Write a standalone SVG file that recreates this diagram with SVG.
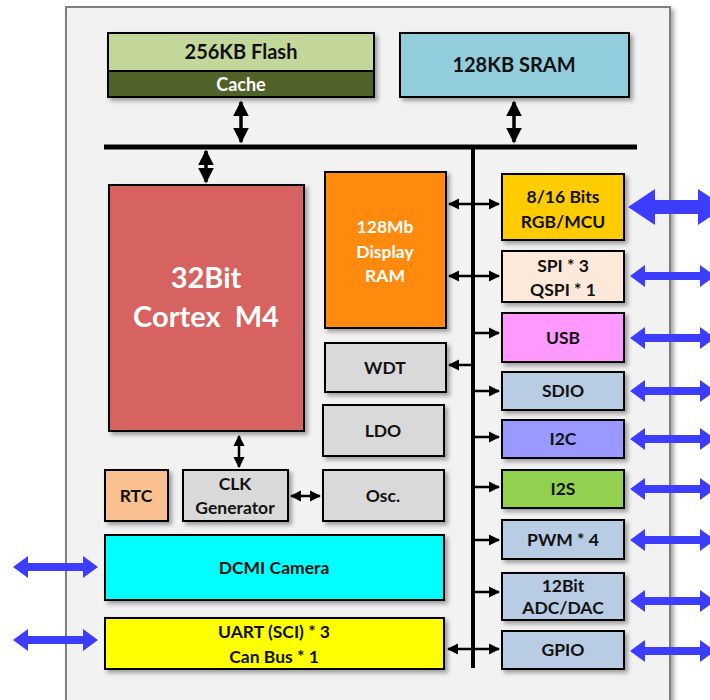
<svg xmlns="http://www.w3.org/2000/svg" width="710" height="700" viewBox="0 0 710 700">
<defs>
<filter id="sh" x="-10%" y="-10%" width="130%" height="130%">
<feDropShadow dx="3" dy="3" stdDeviation="2" flood-color="#000" flood-opacity="0.35"/>
</filter>
<marker id="ah" viewBox="0 0 10 10" refX="9" refY="5" markerWidth="4.5" markerHeight="4.5" orient="auto-start-reverse">
<path d="M0,0 L10,5 L0,10 z" fill="#000"/>
</marker>
<path id="ba" d="M0,0 L15,-11 L15,-4 L70,-4 L70,-11 L85,0 L70,11 L70,4 L15,4 L15,11 z" fill="#3d3dff"/>
<path id="bb" d="M0,0 L27,-18 L27,-7 L70,-7 L70,-18 L97,0 L70,18 L70,7 L27,7 L27,18 z" fill="#3d3dff"/>
</defs>
<style>
.b{stroke:#000;stroke-width:2;filter:url(#sh)}
.t{font-family:Lato,"Open Sans","Liberation Sans",sans-serif;font-weight:bold;font-size:17.5px;text-anchor:middle;fill:#111}
.w{fill:#fff}
.c{stroke:#000;stroke-width:2.5;fill:none;marker-start:url(#ah);marker-end:url(#ah)}
.s{stroke:#000;stroke-width:2.5;fill:none;marker-end:url(#ah)}
.v{stroke:#000;stroke-width:3.5;fill:none;marker-start:url(#ah);marker-end:url(#ah)}
</style>
<rect x="0" y="0" width="710" height="700" fill="#fff"/>
<rect x="66" y="7" width="604" height="700" fill="#f2f2f2" stroke="#7f7f7f" stroke-width="2" filter="url(#sh)"/>

<g id="flash">
<rect class="b" x="108" y="33" width="266" height="64" fill="#c4d79b"/>
<rect x="108" y="71" width="266" height="26" fill="#4f6228" stroke="#000" stroke-width="2"/>
<text class="t" x="241" y="59" style="font-size:20px">256KB Flash</text>
<text class="t w" x="241" y="91" style="font-size:18px">Cache</text>
</g>
<g id="sram">
<rect class="b" x="400" y="33" width="229" height="64" fill="#92cddc"/>
<text class="t" x="514" y="72" style="font-size:20px">128KB SRAM</text>
</g>
<g id="cpu">
<rect class="b" x="109" y="185" width="195" height="246" fill="#d6635f"/>
<text class="t w" x="206" y="288" style="font-size:29px">32Bit</text>
<text class="t w" x="206" y="327" style="font-size:29px" xml:space="preserve">Cortex  M4</text>
</g>
<g id="dram">
<rect class="b" x="325" y="172" width="121" height="156" fill="#ff8a0d"/>
<text class="t w" x="385" y="233">128Mb</text>
<text class="t w" x="385" y="258">Display</text>
<text class="t w" x="385" y="282">RAM</text>
</g>
<g id="wdt"><rect class="b" x="325" y="343" width="121" height="49" fill="#d9d9d9"/><text class="t" x="385" y="374">WDT</text></g>
<g id="ldo"><rect class="b" x="323" y="405" width="121" height="51" fill="#d9d9d9"/><text class="t" x="383" y="437">LDO</text></g>
<g id="osc"><rect class="b" x="323" y="470" width="121" height="51" fill="#d9d9d9"/><text class="t" x="383" y="502">Osc.</text></g>
<g id="rtc"><rect class="b" x="105" y="470" width="63" height="51" fill="#fac090"/><text class="t" x="136" y="502">RTC</text></g>
<g id="clk"><rect class="b" x="183" y="470" width="105" height="51" fill="#d9d9d9"/><text class="t" x="235" y="490">CLK</text><text class="t" x="235" y="514">Generator</text></g>
<g id="dcmi"><rect class="b" x="105" y="535" width="339" height="65" fill="#00ffff"/><text class="t" x="274" y="574">DCMI Camera</text></g>
<g id="uart"><rect class="b" x="105" y="618" width="339" height="51" fill="#ffff00"/><text class="t" x="274" y="638">UART (SCI) * 3</text><text class="t" x="274" y="663">Can Bus * 1</text></g>

<g id="rgb"><rect class="b" x="502" y="174" width="122" height="66" fill="#ffcc00"/><text class="t" x="563" y="203">8/16 Bits</text><text class="t" x="563" y="228">RGB/MCU</text></g>
<g id="spi"><rect class="b" x="502" y="251" width="122" height="51" fill="#fde9d9"/><text class="t" x="563" y="272">SPI * 3</text><text class="t" x="563" y="296">QSPI * 1</text></g>
<g id="usb"><rect class="b" x="502" y="313" width="122" height="49" fill="#ff99ff"/><text class="t" x="563" y="344">USB</text></g>
<g id="sdio"><rect class="b" x="502" y="372" width="122" height="38" fill="#b8cce4"/><text class="t" x="563" y="397">SDIO</text></g>
<g id="i2c"><rect class="b" x="502" y="420" width="122" height="38" fill="#9999ff"/><text class="t" x="563" y="445">I2C</text></g>
<g id="i2s"><rect class="b" x="502" y="470" width="122" height="38" fill="#92d050"/><text class="t" x="563" y="495">I2S</text></g>
<g id="pwm"><rect class="b" x="502" y="520" width="122" height="39" fill="#b8cce4"/><text class="t" x="563" y="546">PWM * 4</text></g>
<g id="adc"><rect class="b" x="502" y="573" width="122" height="47" fill="#b8cce4"/><text class="t" x="563" y="592">12Bit</text><text class="t" x="563" y="614">ADC/DAC</text></g>
<g id="gpio"><rect class="b" x="502" y="631" width="122" height="38" fill="#b8cce4"/><text class="t" x="563" y="656">GPIO</text></g>

<g id="connectors">
<line x1="104" y1="147" x2="637" y2="147" stroke="#000" stroke-width="5"/>
<line x1="473" y1="147" x2="473" y2="668" stroke="#000" stroke-width="4"/>
<line class="v" x1="241" y1="102" x2="241" y2="142"/>
<line class="v" x1="514" y1="102" x2="514" y2="142"/>
<line class="v" x1="206" y1="151" x2="206" y2="182"/>
<line class="c" x1="449" y1="204" x2="499" y2="204"/>
<line class="c" x1="449" y1="276" x2="499" y2="276"/>
<line class="s" x1="473" y1="333" x2="499" y2="333"/>
<line class="s" x1="473" y1="365" x2="449" y2="365"/>
<line class="s" x1="473" y1="391" x2="499" y2="391"/>
<line class="s" x1="473" y1="437" x2="499" y2="437"/>
<line class="s" x1="473" y1="487" x2="499" y2="487"/>
<line class="s" x1="473" y1="540" x2="499" y2="540"/>
<line class="s" x1="473" y1="592" x2="499" y2="592"/>
<line class="c" x1="448" y1="649" x2="499" y2="649"/>
<line class="c" x1="239" y1="436" x2="239" y2="467"/>
<line class="c" x1="291" y1="496" x2="320" y2="496"/>
<use href="#bb" x="628" y="207"/>
<use href="#ba" x="630" y="276"/>
<use href="#ba" x="630" y="338"/>
<use href="#ba" x="630" y="391"/>
<use href="#ba" x="630" y="439"/>
<use href="#ba" x="630" y="489"/>
<use href="#ba" x="630" y="540"/>
<use href="#ba" x="630" y="601"/>
<use href="#ba" x="630" y="651"/>
<use href="#ba" x="13" y="567"/>
<use href="#ba" x="13" y="640"/>
</g>
</svg>
